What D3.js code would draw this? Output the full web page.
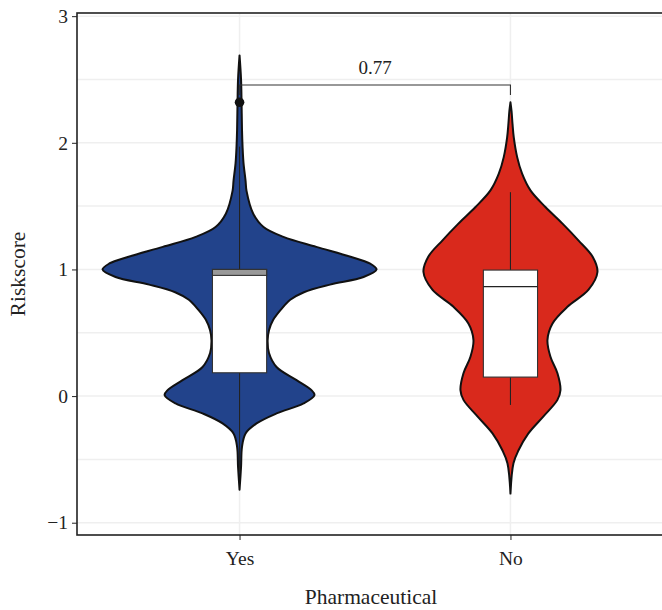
<!DOCTYPE html>
<html>
<head>
<meta charset="utf-8">
<script src="https://cdn.jsdelivr.net/npm/d3@7"></script>
<style>
  html, body { margin: 0; padding: 0; background: #fff; }
  svg { display: block; font-family: "Liberation Serif", "DejaVu Serif", serif; }
</style>
</head>
<body>
<svg id="chart" width="662" height="610"></svg>
<script>
// Groups along the x axis
const categories = ["Yes", "No"];
const fillColors = ["#22438b", "#d9291c"];

// Violin outlines: risk score value and relative density (peak of "Yes" = 1)
const yesViolinValue = [2.69, 2.5, 2.3, 2.1, 1.97, 1.84, 1.70, 1.62, 1.44, 1.335, 1.257, 1.178, 1.10, 1.047, 1.0, 0.94, 0.88, 0.82, 0.76, 0.68, 0.60, 0.52, 0.44, 0.34, 0.23, 0.126, 0.047, 0.008, -0.058, -0.137, -0.216, -0.295, -0.4, -0.56, -0.74];
const yesViolinDensity = [0, 0.011, 0.015, 0.018, 0.022, 0.029, 0.044, 0.051, 0.10, 0.175, 0.32, 0.56, 0.81, 0.95, 1.0, 0.905, 0.66, 0.47, 0.37, 0.30, 0.245, 0.215, 0.205, 0.215, 0.27, 0.416, 0.525, 0.547, 0.467, 0.27, 0.124, 0.044, 0.018, 0.011, 0];

const noViolinValue = [2.32, 2.25, 2.15, 2.045, 1.887, 1.756, 1.624, 1.493, 1.362, 1.23, 1.1, 0.98, 0.84, 0.705, 0.574, 0.442, 0.31, 0.18, 0.047, -0.03, -0.16, -0.295, -0.43, -0.53, -0.77];
const noViolinDensity = [0, 0.008, 0.015, 0.024, 0.049, 0.085, 0.146, 0.255, 0.38, 0.496, 0.60, 0.635, 0.57, 0.416, 0.307, 0.27, 0.292, 0.343, 0.365, 0.343, 0.241, 0.131, 0.058, 0.022, 0];

// Box-plot summaries per group: [lower whisker, Q1, median, Q3, upper whisker]
const boxYes = [-0.6, 0.184, 0.953, 1.0, 1.97];
const boxNo = [-0.07, 0.15, 0.865, 0.995, 1.61];
const outliersYes = [2.32];

// Comparison bracket
const comparisonLabel = "0.77";
const bracketLevel = 2.457;
const bracketTip = 2.377;

// Axis ticks and titles
const yTicks = [-1, 0, 1, 2, 3];
const yGrid = [-1, -0.5, 0, 0.5, 1, 1.5, 2, 2.5, 3];
const xTitle = "Pharmaceutical";
const yTitle = "Riskscore";

const svg = d3.select("#chart");
const panel = { left: 77, right: 673, top: 13, bottom: 535 };

const x = d3.scalePoint().domain(categories).range([panel.left, panel.right]).padding(0.6);
const y = d3.scaleLinear().domain([-1.097, 3.025]).range([panel.bottom, panel.top]);
const w = d3.scaleLinear().domain([0, 1]).range([0, 137]);

// Grid
const grid = svg.append("g");
grid.selectAll("line.h").data(yGrid).join("line")
  .attr("x1", panel.left).attr("x2", panel.right)
  .attr("y1", d => y(d)).attr("y2", d => y(d))
  .attr("stroke", "#efefef").attr("stroke-width", 1.5);
grid.selectAll("line.v").data(categories).join("line")
  .attr("x1", d => x(d)).attr("x2", d => x(d))
  .attr("y1", panel.top).attr("y2", panel.bottom)
  .attr("stroke", "#efefef").attr("stroke-width", 1.5);

// Violins
const violins = [
  { cat: "Yes", values: yesViolinValue, dens: yesViolinDensity, fill: fillColors[0] },
  { cat: "No", values: noViolinValue, dens: noViolinDensity, fill: fillColors[1] }
];
violins.forEach(v => {
  const pts = v.values.map((val, i) => ({ val, d: v.dens[i] }));
  const cx = x(v.cat);
  const area = d3.area()
    .y(p => y(p.val))
    .x0(p => cx - w(p.d))
    .x1(p => cx + w(p.d))
    .curve(d3.curveCatmullRom.alpha(0.5));
  svg.append("path")
    .attr("d", area(pts))
    .attr("fill", v.fill)
    .attr("stroke", "#111")
    .attr("stroke-width", 2)
    .attr("stroke-linejoin", "round");
});

// Box plots
const boxes = [
  { cat: "Yes", s: boxYes },
  { cat: "No", s: boxNo }
];
const boxHalf = (x.step()) * 0.1;
boxes.forEach(b => {
  const cx = x(b.cat);
  const [lo, q1, med, q3, hi] = b.s;
  const g = svg.append("g");
  g.append("line").attr("x1", cx).attr("x2", cx).attr("y1", y(q3)).attr("y2", y(hi))
    .attr("stroke", "#222").attr("stroke-width", 1.1);
  g.append("line").attr("x1", cx).attr("x2", cx).attr("y1", y(q1)).attr("y2", y(lo))
    .attr("stroke", "#222").attr("stroke-width", 1.1);
  g.append("rect")
    .attr("x", cx - boxHalf).attr("width", boxHalf * 2)
    .attr("y", y(q3)).attr("height", y(q1) - y(q3))
    .attr("fill", "#fff").attr("stroke", "#333").attr("stroke-width", 1.1);
  if (y(med) - y(q3) < 8) {
    g.append("rect")
      .attr("x", cx - boxHalf).attr("width", boxHalf * 2)
      .attr("y", y(q3)).attr("height", y(med) - y(q3))
      .attr("fill", "#999").attr("stroke", "#333").attr("stroke-width", 1.1);
  } else {
    g.append("line")
      .attr("x1", cx - boxHalf).attr("x2", cx + boxHalf)
      .attr("y1", y(med)).attr("y2", y(med))
      .attr("stroke", "#222").attr("stroke-width", 1.2);
  }
});

// Outliers
svg.selectAll("circle.out").data(outliersYes).join("circle")
  .attr("cx", x("Yes")).attr("cy", d => y(d)).attr("r", 4.8).attr("fill", "#111");

// Comparison bracket with p-value
const br = svg.append("g");
br.append("path")
  .attr("d", `M${x("Yes")},${y(bracketTip)}V${y(bracketLevel)}H${x("No")}V${y(bracketTip)}`)
  .attr("fill", "none").attr("stroke", "#333").attr("stroke-width", 1.1);
br.append("text")
  .attr("x", (x("Yes") + x("No")) / 2).attr("y", y(bracketLevel) - 11)
  .attr("text-anchor", "middle").attr("font-size", 19).attr("fill", "#222")
  .text(comparisonLabel);

// Panel border
svg.append("rect")
  .attr("x", panel.left).attr("y", panel.top)
  .attr("width", panel.right - panel.left).attr("height", panel.bottom - panel.top)
  .attr("fill", "none").attr("stroke", "#222").attr("stroke-width", 1.6);

// Axes
const yAxis = svg.append("g").attr("transform", `translate(${panel.left},0)`)
  .call(d3.axisLeft(y).tickValues(yTicks).tickSize(5).tickPadding(4)
    .tickFormat(d => d < 0 ? "\u2212" + Math.abs(d) : d));
yAxis.select(".domain").remove();
yAxis.selectAll("text").attr("font-size", 19.5).attr("fill", "#222").attr("font-family", "Liberation Serif");
yAxis.selectAll("line").attr("stroke", "#222");

const xAxis = svg.append("g").attr("transform", `translate(0,${panel.bottom})`)
  .call(d3.axisBottom(x).tickSize(5).tickPadding(11));
xAxis.select(".domain").remove();
xAxis.selectAll("text").attr("font-size", 19.5).attr("fill", "#222").attr("font-family", "Liberation Serif");
xAxis.selectAll("line").attr("stroke", "#222");

// Axis titles
svg.append("text")
  .attr("x", (panel.left + 665) / 2).attr("y", 604)
  .attr("text-anchor", "middle").attr("font-size", 21.5).attr("fill", "#222")
  .text(xTitle);
svg.append("text")
  .attr("transform", `translate(25,${(panel.top + panel.bottom) / 2}) rotate(-90)`)
  .attr("text-anchor", "middle").attr("font-size", 21.5).attr("fill", "#222")
  .text(yTitle);
</script>
</body>
</html>
